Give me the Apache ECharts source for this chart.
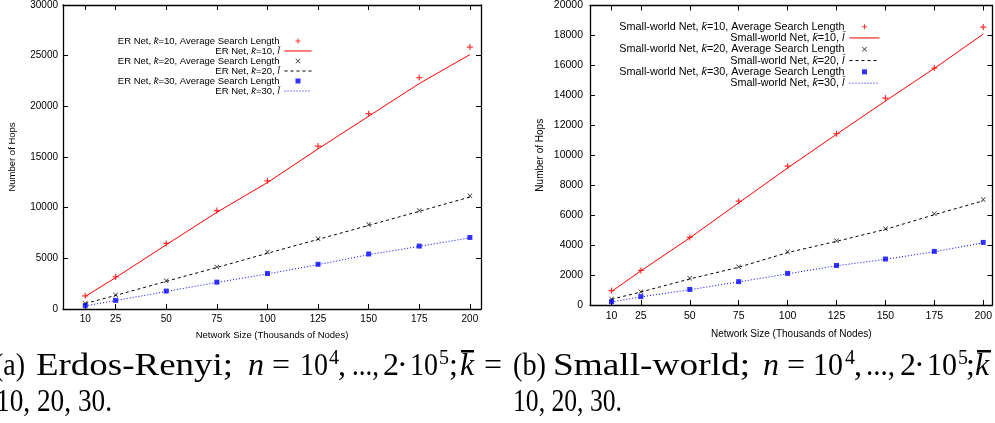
<!DOCTYPE html>
<html>
<head>
<meta charset="utf-8">
<script src="https://cdn.jsdelivr.net/npm/echarts@6/dist/echarts.min.js"></script>
<style>html,body{margin:0;padding:0;background:#fff}#c{width:995px;height:423px}</style>
</head>
<body>
<div id="c"></div>
<script>
// ---- data ----
const sizes = [10, 25, 50, 75, 100, 125, 150, 175, 200];
const xTicks = [10, 25, 50, 75, 100, 125, 150, 175, 200];
const erTicksMax = 30000, erTickStep = 5000;
const swTicksMax = 20000, swTickStep = 2000;

const erASL10 = [1300, 3170, 6470, 9710, 12650, 16080, 19280, 22840, 25850];
const erL10   = [1240, 3100, 6340, 9540, 12480, 15800, 19020, 22250, 25100];
const erASL20 = [560, 1370, 2780, 4150, 5620, 6930, 8330, 9710, 11180];
const erL20   = [540, 1340, 2730, 4100, 5500, 6870, 8250, 9640, 11050];
const erASL30 = [330, 850, 1770, 2650, 3500, 4410, 5430, 6210, 7060];
const erL30   = [310, 830, 1730, 2620, 3460, 4380, 5360, 6180, 7020];

const swASL10 = [960, 2310, 4510, 6930, 9270, 11440, 13820, 15820, 18560];
const swL10   = [900, 2280, 4480, 6820, 9150, 11400, 13620, 15800, 18090];
const swASL20 = [400, 890, 1780, 2560, 3560, 4290, 5090, 6090, 7040];
const swL20   = [380, 870, 1740, 2520, 3500, 4250, 5050, 6030, 6960];
const swASL30 = [220, 560, 1040, 1560, 2110, 2640, 3070, 3580, 4180];
const swL30   = [200, 540, 1020, 1540, 2080, 2620, 3050, 3560, 4150];

const KB = 'k\u0304', LB = 'l\u0304';
const erNames = [
  'ER Net, ' + KB + '=10, Average Search Length', 'ER Net, ' + KB + '=10, ' + LB,
  'ER Net, ' + KB + '=20, Average Search Length', 'ER Net, ' + KB + '=20, ' + LB,
  'ER Net, ' + KB + '=30, Average Search Length', 'ER Net, ' + KB + '=30, ' + LB
];
const swNames = [
  'Small-world Net, ' + KB + '=10, Average Search Length', 'Small-world Net, ' + KB + '=10, ' + LB,
  'Small-world Net, ' + KB + '=20, Average Search Length', 'Small-world Net, ' + KB + '=20, ' + LB,
  'Small-world Net, ' + KB + '=30, Average Search Length', 'Small-world Net, ' + KB + '=30, ' + LB
];
const xName = 'Network Size (Thousands of Nodes)';
const yName = 'Number of Hops';

// ---- styles ----
const PLUS = 'path://M4,0 H6 V4 H10 V6 H6 V10 H4 V6 H0 V4 H4 Z';
const CROSS = 'path://M0,1 L1,0 L5,4 L9,0 L10,1 L6,5 L10,9 L9,10 L5,6 L1,10 L0,9 L4,5 Z';
const SQUARE = 'path://M0,0 H10 V10 H0 Z';
const RED = '#ff0000', BLK = '#000000', BLU = '#0000ff';
const SANS = 'Liberation Sans';
const SERIF = 'Liberation Serif';

const pairs = (ys) => sizes.map((x, i) => [x, ys[i]]);

function scatter(name, ys, color, symbol, size, gi) {
  return { type: 'scatter', name, data: pairs(ys), xAxisIndex: gi * 2, yAxisIndex: gi * 2,
    symbol, symbolSize: size, itemStyle: { color }, silent: true, z: 3 };
}
function line(name, ys, color, dash, gi) {
  return { type: 'line', name, data: pairs(ys), xAxisIndex: gi * 2, yAxisIndex: gi * 2,
    symbol: 'none', showSymbol: false, lineStyle: { color, width: 1, type: dash }, itemStyle: { color },
    silent: true, z: 2 };
}

function xAxes(gi, xmin, xmax, fs, margin, nameGap) {
  const base = { type: 'value', gridIndex: gi, min: xmin, max: xmax, splitLine: { show: false },
    axisLine: { onZero: false, lineStyle: { color: '#000', width: 1.3 } },
    axisTick: { inside: true, length: 5, customValues: xTicks, lineStyle: { color: '#000' } } };
  return [
    Object.assign({}, base, { position: 'bottom',
      axisLabel: { customValues: xTicks, color: '#000', fontFamily: SANS, fontSize: fs, margin },
      name: xName, nameLocation: 'middle', nameGap,
      nameTextStyle: { color: '#000', fontFamily: SANS, fontSize: fs - 0.5 } }),
    Object.assign({}, base, { position: 'top', axisLabel: { show: false } })
  ];
}
function yAxes(gi, max, step, fs, margin, nameGap) {
  const base = { type: 'value', gridIndex: gi, min: 0, max, interval: step, splitLine: { show: false },
    axisLine: { show: true, onZero: false, lineStyle: { color: '#000', width: 1.3 } },
    axisTick: { show: true, inside: true, length: 5, lineStyle: { color: '#000' } } };
  return [
    Object.assign({}, base, { position: 'left',
      axisLabel: { color: '#000', fontFamily: SANS, fontSize: fs, margin, formatter: (v) => String(v) },
      name: yName, nameLocation: 'middle', nameGap,
      nameTextStyle: { color: '#000', fontFamily: SANS, fontSize: fs - 0.5 } }),
    Object.assign({}, base, { position: 'right', axisLabel: { show: false } })
  ];
}

function legend(names, right, top, fs, pitch, itemWidth) {
  const hide = { opacity: 0 };
  return { orient: 'vertical', right, top, align: 'right', padding: 0, itemGap: 0,
    itemWidth, itemHeight: 5, selectedMode: false,
    data: [
      { name: names[0], icon: PLUS }, { name: names[1], itemStyle: hide },
      { name: names[2], icon: CROSS }, { name: names[3], itemStyle: hide },
      { name: names[4], icon: SQUARE }, { name: names[5], itemStyle: hide }
    ],
    lineStyle: { width: 1 },
    formatter: (n) => n.replace(KB, '{i|' + KB + '}').replace(LB, '{i|' + LB + '}'),
    textStyle: { color: '#000', fontFamily: SANS, fontSize: fs, lineHeight: pitch,
      rich: { i: { fontStyle: 'italic', fontFamily: SANS, fontSize: fs, lineHeight: pitch, color: '#000' } } }
  };
}

// ---- captions (text pieces, fitted to the measured extents) ----
const mctx = document.createElement('canvas').getContext('2d');
function txt(text, x0, x1, y, size, italic) {
  const font = (italic ? 'italic ' : '') + size + 'px "' + SERIF + '"';
  mctx.font = font;
  const w = mctx.measureText(text).width;
  const sx = text.length > 1 ? (x1 - x0) / w : 1;
  return { type: 'text', x: x0, y, scaleX: sx, silent: true,
    style: { text, fill: '#000', font, verticalAlign: 'middle', align: 'left' } };
}
const L1 = 367, L2 = 403, SUP = 359, FS = 32, FSS = 20;
const capA = [
  ['(a)', -6, 25, L1, FS], ['Erdos-Renyi;', 36, 233, L1, FS], ['n', 248, 262, L1, FS, true],
  ['=', 272, 290, L1, FS], ['10', 300, 328, L1, FS], ['4', 329, 336, SUP, FSS], [',', 338, 341, L1, FS],
  ['...,', 352, 379, L1, FS], ['2', 383, 393, L1, FS], ['\u00b7', 397, 402, L1, FS],
  ['10', 410, 438, L1, FS], ['5', 439, 446, SUP, FSS], [';', 449, 452, L1, FS],
  ['k', 460, 474, L1, FS, true], ['=', 484, 500, L1, FS],
  ['10, 20, 30.', -4, 112, L2, FS]
];
const capB = [
  ['(b)', 513, 546, L1, FS], ['Small-world;', 553, 750, L1, FS], ['n', 763, 777, L1, FS, true],
  ['=', 787, 803, L1, FS], ['10', 813, 843, L1, FS], ['4', 845, 852, SUP, FSS], [',', 854, 857, L1, FS],
  ['...,', 866, 895, L1, FS], ['2', 900, 910, L1, FS], ['\u00b7', 914, 919, L1, FS],
  ['10', 927, 957, L1, FS], ['5', 958, 964, SUP, FSS], [';', 966, 970, L1, FS],
  ['k', 975, 990, L1, FS, true],
  ['10, 20, 30.', 513, 622, L2, FS]
];
const graphics = capA.concat(capB).map(p => txt(p[0], p[1], p[2], p[3], p[4], p[5]));
graphics.push({ type: 'rect', silent: true, shape: { x: 461, y: 350, width: 13, height: 2.5 }, style: { fill: '#000' } });
graphics.push({ type: 'rect', silent: true, shape: { x: 977, y: 350, width: 14, height: 2.5 }, style: { fill: '#000' } });

const option = {
  animation: false,
  backgroundColor: '#fff',
  grid: [
    { left: 63, top: 3, width: 418, height: 306 },
    { left: 590, top: 5, width: 406, height: 300 }
  ],
  xAxis: xAxes(0, -1, 205.5, 10, 5, 21).concat(xAxes(1, -1, 204.7, 10.5, 6, 24)),
  yAxis: yAxes(0, erTicksMax, erTickStep, 10, 5, 46).concat(yAxes(1, swTicksMax, swTickStep, 10.5, 7, 45)),
  legend: [
    legend(erNames, 683, 36, 9.5, 9.8, 27),
    legend(swNames, 115, 21, 10.8, 11.3, 30)
  ],
  graphic: graphics,
  series: [
    scatter(erNames[0], erASL10, RED, PLUS, 6, 0),
    line(erNames[1], erL10, RED, 'solid', 0),
    scatter(erNames[2], erASL20, BLK, CROSS, 5, 0),
    line(erNames[3], erL20, BLK, [3, 3], 0),
    scatter(erNames[4], erASL30, BLU, SQUARE, 5, 0),
    line(erNames[5], erL30, BLU, [1, 2], 0),
    scatter(swNames[0], swASL10, RED, PLUS, 6, 1),
    line(swNames[1], swL10, RED, 'solid', 1),
    scatter(swNames[2], swASL20, BLK, CROSS, 5, 1),
    line(swNames[3], swL20, BLK, [3, 3], 1),
    scatter(swNames[4], swASL30, BLU, SQUARE, 5, 1),
    line(swNames[5], swL30, BLU, [1, 2], 1)
  ]
};
echarts.init(document.getElementById('c')).setOption(option);
</script>
</body>
</html>
